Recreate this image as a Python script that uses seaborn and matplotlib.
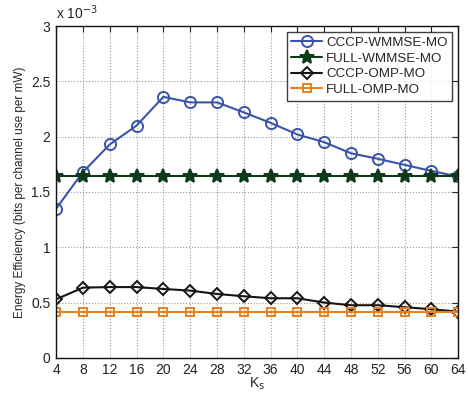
import pandas as pd
import matplotlib
matplotlib.use('Agg')
import matplotlib.pyplot as plt
import seaborn as sns

# =============================
# DATA (values in units of 1e-3)
# =============================
ks = [4, 8, 12, 16, 20, 24, 28, 32, 36, 40, 44, 48, 52, 56, 60, 64]
cccp_wmmse = [1.35, 1.68, 1.93, 2.10, 2.36, 2.31, 2.31, 2.22, 2.125, 2.02, 1.95, 1.85, 1.80, 1.745, 1.69, 1.64]
full_wmmse = [1.64] * 16
cccp_omp = [0.53, 0.635, 0.64, 0.64, 0.623, 0.608, 0.578, 0.557, 0.539, 0.539, 0.50, 0.476, 0.476, 0.458, 0.44, 0.418]
full_omp = [0.418] * 16

series = ['CCCP-WMMSE-MO', 'FULL-WMMSE-MO', 'CCCP-OMP-MO', 'FULL-OMP-MO']
values = [cccp_wmmse, full_wmmse, cccp_omp, full_omp]

df = pd.concat([pd.DataFrame({'Ks': ks, 'EE': v, 'Method': s}) for s, v in zip(series, values)])

styles = {
    'CCCP-WMMSE-MO': dict(color='#3a55a8', marker='o', markersize=8, markerfacecolor='none'),
    'FULL-WMMSE-MO': dict(color='#0e3a1c', marker='*', markersize=10.5, markerfacecolor='#0e3a1c'),
    'CCCP-OMP-MO': dict(color='#151515', marker='D', markersize=6.5, markerfacecolor='none'),
    'FULL-OMP-MO': dict(color='#e8801e', marker='s', markersize=6, markerfacecolor='none'),
}

# =============================
# PLOT
# =============================
sns.set_style('white')
plt.rcParams['font.family'] = ['Liberation Sans', 'DejaVu Sans']

fig = plt.figure(figsize=(4.68, 3.95), dpi=100)
ax = fig.add_axes([0.12, 0.094, 0.859, 0.84])

for name in series:
    st = styles[name]
    sns.lineplot(data=df[df['Method'] == name], x='Ks', y='EE', ax=ax, label=name,
                 linewidth=1.5, markeredgewidth=1.4, markeredgecolor=st['color'], **st)

ax.set_xlim(4, 64)
ax.set_ylim(0, 3)
ax.set_xticks(ks)
ax.set_yticks([0, 0.5, 1, 1.5, 2, 2.5, 3])
ax.set_yticklabels(['0', '0.5', '1', '1.5', '2', '2.5', '3'])
ax.tick_params(direction='in', top=True, right=True, length=4, width=0.8, labelsize=10, colors='#222222', pad=4)
ax.grid(True, linestyle=':', color='#999999', linewidth=0.8)
for sp in ax.spines.values():
    sp.set_color('#111111')
    sp.set_linewidth(1.0)

ax.set_xlabel('K$_\\mathrm{s}$', fontsize=10, labelpad=-1)
ax.set_ylabel('Energy Efficiency (bits per channel use per mW)', fontsize=8.5, labelpad=4)
ax.text(0.0, 1.012, 'x 10$^{-3}$', transform=ax.transAxes, fontsize=10, ha='left', va='bottom')

leg = ax.legend(loc='upper right', fontsize=9.6, frameon=True, fancybox=False,
                edgecolor='#111111', handlelength=2.3, borderpad=0.35,
                labelspacing=0.25, handletextpad=0.3, borderaxespad=0.45)
leg.get_frame().set_linewidth(1.0)

plt.savefig('out.png', dpi=100)
plt.close()
